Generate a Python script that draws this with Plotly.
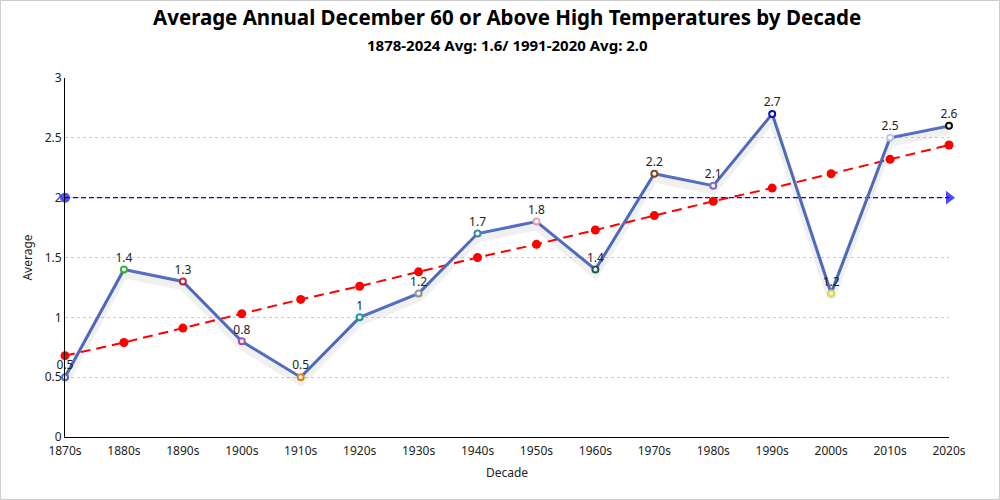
import plotly.graph_objects as go

decades = ["1870s", "1880s", "1890s", "1900s", "1910s", "1920s", "1930s", "1940s",
           "1950s", "1960s", "1970s", "1980s", "1990s", "2000s", "2010s", "2020s"]
averages = [0.5, 1.4, 1.3, 0.8, 0.5, 1.0, 1.2, 1.7, 1.8, 1.4, 2.2, 2.1, 2.7, 1.2, 2.5, 2.6]
labels = ["0.5", "1.4", "1.3", "0.8", "0.5", "1", "1.2", "1.7", "1.8", "1.4", "2.2", "2.1", "2.7", "1.2", "2.5", "2.6"]
trend = [0.68, 0.79, 0.91, 1.03, 1.15, 1.26, 1.38, 1.50, 1.61, 1.73, 1.85, 1.97, 2.08, 2.20, 2.32, 2.44]
normal_x = ["1870s", "2020s"]
normal_y = [2.0, 2.0]
point_colors = ["#5470c6", "#33b533", "#c2244a", "#b050b8", "#e88a1a", "#16a0a0", "#9a9a9a", "#3a8fa8",
                "#eaa5b5", "#1d5e5e", "#8b4a1a", "#8a6fd0", "#0a0ad0", "#e6e650", "#c8c8ea", "#111111"]

FONT = "Noto Sans"
fig = go.Figure()

# soft shadow under main line
fig.add_trace(go.Scatter(x=decades, y=averages, mode="lines", xaxis="x", yaxis="y2",
                         line=dict(color="rgba(0,0,0,0.06)", width=8), hoverinfo="skip",
                         showlegend=False))

fig.add_trace(go.Scatter(x=normal_x, y=normal_y, mode="lines+markers",
                         line=dict(color="#0000ff", width=1.2, dash="5px,3px"),
                         marker=dict(symbol=["circle", "triangle-right"], size=[10, 12], color="#0000ff",
                                     line=dict(width=0)),
                         showlegend=False, cliponaxis=False))

fig.add_trace(go.Scatter(x=decades, y=trend, mode="lines+markers",
                         line=dict(color="#ff0000", width=2, dash="10px,6px"),
                         marker=dict(size=9, color="#ff0000"),
                         showlegend=False, cliponaxis=False))

fig.add_trace(go.Scatter(x=decades, y=averages, mode="lines+markers+text",
                         text=labels, textposition="top center",
                         textfont=dict(family=FONT, size=12, color="#222"),
                         line=dict(color="#5470c6", width=3),
                         marker=dict(size=6, color="white", line=dict(color=point_colors, width=2)),
                         showlegend=False, cliponaxis=False))

fig.update_layout(
    width=1000, height=500,
    margin=dict(l=65, r=51, t=78, b=63),
    paper_bgcolor="white", plot_bgcolor="white",
    font=dict(family=FONT, size=12, color="#222"),
    xaxis=dict(type="category", range=[0, 15], showgrid=False, showline=True,
               linecolor="#000", linewidth=1, ticks="", tickfont=dict(size=12, color="#222"),
               ticklabelstandoff=3,
               title=dict(text="Decade", font=dict(size=12, color="#222"), standoff=10)),
    yaxis=dict(range=[0, 3], dtick=0.5, showgrid=True, gridcolor="#cccccc", griddash="dot",
               showline=True, linecolor="#000", linewidth=1, ticks="", zeroline=False,
               tickfont=dict(size=12, color="#222"),
               title=dict(text="Average", font=dict(size=12, color="#222"), standoff=9)),
    yaxis2=dict(range=[0.04, 3.04], overlaying="y", visible=False),
    annotations=[
        dict(text="<b>Average Annual December 60 or Above High Temperatures by Decade</b>",
             x=0.5, y=1, xref="paper", yref="paper", yanchor="top", xanchor="center",
             yshift=77, showarrow=False, font=dict(family=FONT, size=20.5, color="#000")),
        dict(text="<b>1878-2024 Avg: 1.6/ 1991-2020 Avg: 2.0</b>",
             x=0.5, y=1, xref="paper", yref="paper", yanchor="top", xanchor="center",
             yshift=45, showarrow=False, font=dict(family=FONT, size=15, color="#000")),
    ],
    shapes=[dict(type="rect", xref="paper", yref="paper", x0=-0.073, x1=1.0571, y0=-0.174, y1=1.2159,
                 line=dict(color="#cccccc", width=1))],
)

fig.write_html("out.html", config={"displayModeBar": False},
               post_script="document.body.style.margin='0';document.body.style.overflow='hidden';")
